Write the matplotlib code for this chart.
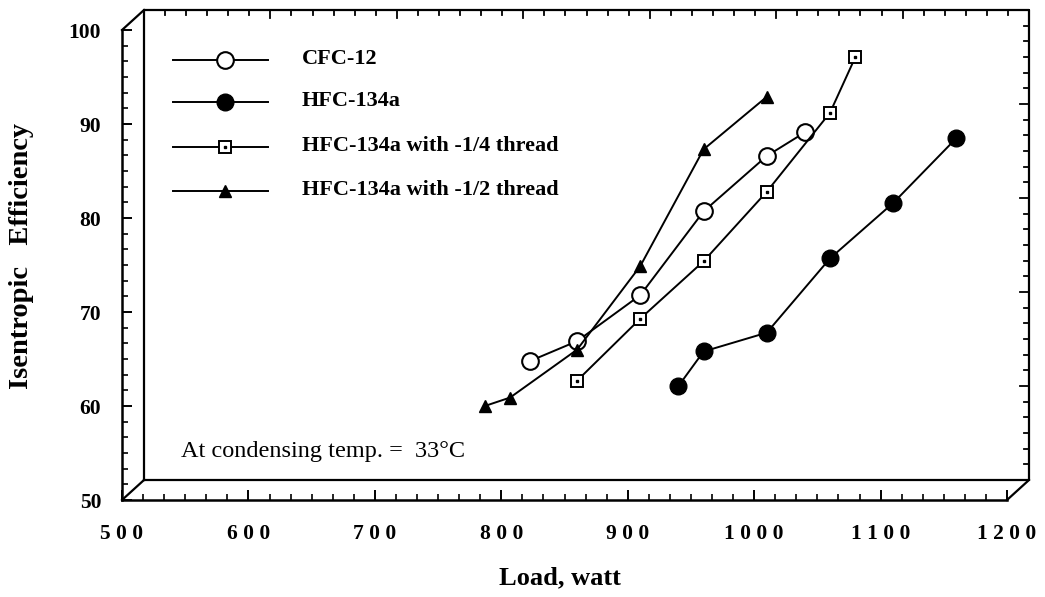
import matplotlib
matplotlib.use("Agg")
import matplotlib.pyplot as plt
import numpy as np
from matplotlib.ticker import FixedLocator, FuncFormatter

# ---------------- data ----------------
cfc12_load = [823, 860, 910, 960, 1010, 1040]
cfc12_eff = [64.8, 66.9, 71.8, 80.7, 86.6, 89.1]

hfc_load = [940, 960, 1010, 1060, 1110, 1160]
hfc_eff = [62.1, 65.8, 67.8, 75.7, 81.6, 88.5]

q_load = [860, 910, 960, 1010, 1060, 1080]
q_eff = [62.7, 69.3, 75.4, 82.8, 91.2, 97.1]

h_load = [787, 807, 860, 910, 960, 1010]
h_eff = [60.0, 60.9, 66.0, 74.9, 87.3, 92.9]

series_labels = ["CFC-12", "HFC-134a", "HFC-134a with -1/4 thread",
                 "HFC-134a with -1/2 thread"]
x_ticks = [500, 600, 700, 800, 900, 1000, 1100, 1200]
y_ticks = [50, 60, 70, 80, 90, 100]
x_label = "Load, watt"
y_label = "Isentropic   Efficiency"
note = "At condensing temp. =  33\u00b0C"

# ---------------- figure ----------------
plt.rcParams["font.family"] = ["Liberation Serif", "DejaVu Serif"]
W, H = 1045, 597
fig = plt.figure(figsize=(W / 100, H / 100), dpi=100)
AX_L, AX_R, AX_T, AX_B = 122, 1007, 30, 500
axw, axh = AX_R - AX_L, AX_B - AX_T
ax = fig.add_axes([AX_L / W, 1 - AX_B / H, axw / W, axh / H])
ax.set_xlim(500, 1200)
ax.set_ylim(50, 100)
ax.patch.set_alpha(0)

for s in ["top", "right"]:
    ax.spines[s].set_visible(False)
for s in ["left", "bottom"]:
    ax.spines[s].set_linewidth(1.8)

ax.xaxis.set_major_locator(FixedLocator(x_ticks))
ax.yaxis.set_major_locator(FixedLocator(y_ticks))
ax.xaxis.set_minor_locator(FixedLocator(np.linspace(500, 1200, 43)))
ax.yaxis.set_minor_locator(FixedLocator(np.linspace(50, 100, 31)))
ax.xaxis.set_major_formatter(FuncFormatter(lambda v, p: " ".join(str(int(round(v))))))
ax.tick_params(which="major", direction="in", length=7, width=1.4)
ax.tick_params(which="minor", direction="in", length=4, width=1.2)
ax.tick_params(axis="x", pad=17, labelsize=15.5)
ax.tick_params(axis="y", pad=15, labelsize=15.5)
for lab in ax.get_xticklabels() + ax.get_yticklabels():
    lab.set_fontweight("bold")

# ---------------- pseudo-3D back frame ----------------
ox, oy = 22 / axw, 20 / axh
fk = dict(transform=ax.transAxes, clip_on=False, color="black", zorder=1)
ax.plot([ox, 1 + ox, 1 + ox, ox, ox], [oy, oy, 1 + oy, 1 + oy, oy], lw=1.6, **fk)
ax.plot([0, ox], [0, oy], lw=1.6, **fk)
ax.plot([0, ox], [1, 1 + oy], lw=1.6, **fk)
ax.plot([1, 1 + ox], [0, oy], lw=1.6, **fk)

for v in np.linspace(500, 1200, 43):
    major = abs(v / 100 - round(v / 100)) < 1e-6
    ln = (8 if major else 5) / axh
    fx = (v - 500) / 700 + ox
    ax.plot([fx, fx], [1 + oy, 1 + oy - ln], lw=1.3, **fk)
for v in np.linspace(50, 100, 31):
    major = abs(v / 10 - round(v / 10)) < 1e-6
    ln = (9 if major else 5) / axw
    fy = (v - 50) / 50 + oy
    ax.plot([1 + ox, 1 + ox - ln], [fy, fy], lw=1.3, **fk)

# ---------------- data ----------------
lw = 1.4
ax.plot(cfc12_load, cfc12_eff, "-o", color="black", lw=lw, ms=12,
        mfc="white", mec="black", mew=1.5, zorder=4, clip_on=False)
ax.plot(hfc_load, hfc_eff, "-o", color="black", lw=lw, ms=12,
        mfc="black", mec="black", zorder=4, clip_on=False)
ax.plot(q_load, q_eff, "-s", color="black", lw=lw, ms=8,
        mfc="white", mec="black", mew=1.4, zorder=4, clip_on=False)
ax.plot(q_load, q_eff, "s", color="black", ms=2, zorder=5, clip_on=False)
ax.plot(h_load, h_eff, "-^", color="black", lw=lw, ms=9,
        mfc="black", mec="black", zorder=4, clip_on=False)

# ---------------- legend (manual) ----------------
def fx_(px):
    return (px - AX_L) / axw

def fy_(py):
    return (AX_B - py) / axh

rows = [60, 102, 147, 191]
styles = [
    dict(marker="o", ms=12, mfc="white", mec="black", mew=1.5),
    dict(marker="o", ms=12, mfc="black", mec="black"),
    dict(marker="s", ms=8, mfc="white", mec="black", mew=1.4),
    dict(marker="^", ms=9, mfc="black", mec="black"),
]
for ry, st, lab in zip(rows, styles, series_labels):
    ax.plot([fx_(173), fx_(225), fx_(268)], [fy_(ry)] * 3, color="black",
            lw=lw, markevery=[1], transform=ax.transAxes, clip_on=False,
            zorder=4, **st)
    if st["marker"] == "s":
        ax.plot([fx_(225)], [fy_(ry)], "s", color="black", ms=2,
                transform=ax.transAxes, clip_on=False, zorder=5)
    ax.text(fx_(302), fy_(ry - 1), lab, transform=ax.transAxes,
            fontsize=16, fontweight="bold", va="center", ha="left")

ax.text(fx_(181), fy_(451), note, transform=ax.transAxes, fontsize=17.5,
        va="center", ha="left")

# ---------------- axis labels ----------------
fig.text(560 / W, 1 - 578 / H, x_label, fontsize=19, fontweight="bold",
         ha="center", va="center")
fig.text(22 / W, 1 - 256 / H, y_label, fontsize=20.5, fontweight="bold",
         ha="center", va="center", rotation=90)

fig.savefig("out.png", dpi=100)
